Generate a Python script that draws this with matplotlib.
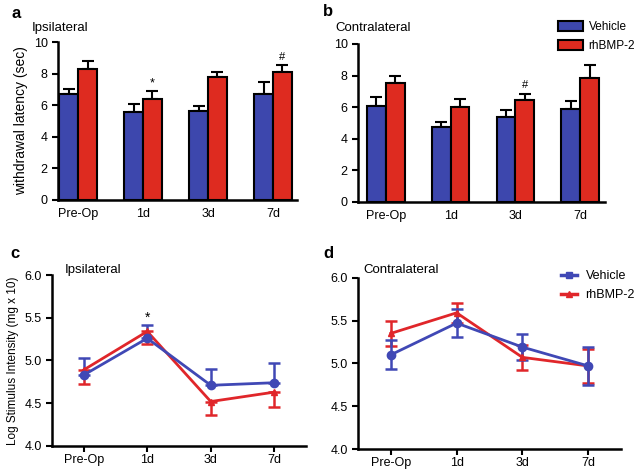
import numpy as np
import matplotlib
matplotlib.use('Agg')
import matplotlib.pyplot as plt
from matplotlib.patches import Patch
from matplotlib.lines import Line2D

plt.rcParams['font.family'] = ['Liberation Sans', 'DejaVu Sans']

# data
days = ['Pre-Op', '1d', '3d', '7d']

# a / b: withdrawal latency (sec), mean and SEM
ipsi_veh = [6.69, 5.56, 5.66, 6.74]
ipsi_veh_err = [0.33, 0.51, 0.32, 0.75]
ipsi_bmp = [8.32, 6.40, 7.77, 8.09]
ipsi_bmp_err = [0.50, 0.51, 0.30, 0.43]

contra_veh = [6.10, 4.72, 5.41, 5.90]
contra_veh_err = [0.55, 0.33, 0.42, 0.50]
contra_bmp = [7.52, 5.98, 6.44, 7.83]
contra_bmp_err = [0.48, 0.52, 0.42, 0.82]

# c / d: log stimulus intensity
vf_ipsi_veh = [4.83, 5.26, 4.71, 4.74]
vf_ipsi_veh_err = [0.20, 0.15, 0.19, 0.23]
vf_ipsi_bmp = [4.89, 5.34, 4.52, 4.63]
vf_ipsi_bmp_err = [0.16, 0.15, 0.16, 0.17]

vf_contra_veh = [5.10, 5.47, 5.19, 4.97]
vf_contra_veh_err = [0.17, 0.16, 0.15, 0.22]
vf_contra_bmp = [5.35, 5.59, 5.07, 4.97]
vf_contra_bmp_err = [0.15, 0.12, 0.15, 0.20]

BLUE = '#3d47ad'
RED = '#de2b20'
LBLUE = '#4048b5'
LRED = '#e0262a'

fig = plt.figure(figsize=(6.38, 4.73), dpi=100)
x = np.arange(len(days))
w = 0.29


def style(ax):
    for s in ['top', 'right']:
        ax.spines[s].set_visible(False)
    for s in ['left', 'bottom']:
        ax.spines[s].set_linewidth(1.8)
    ax.tick_params(axis='both', width=1.5, length=4, labelsize=9, direction='out')


def bars(ax, veh, veh_err, bmp, bmp_err, xlim):
    ax.bar(x - w / 2, veh, w, color=BLUE, edgecolor='black', linewidth=1.5, zorder=2)
    ax.bar(x + w / 2, bmp, w, color=RED, edgecolor='black', linewidth=1.5, zorder=2)
    ax.errorbar(x - w / 2, veh, yerr=[np.zeros(4), veh_err], fmt='none',
                ecolor='black', elinewidth=1.5, capsize=4, capthick=1.5, zorder=1)
    ax.errorbar(x + w / 2, bmp, yerr=[np.zeros(4), bmp_err], fmt='none',
                ecolor='black', elinewidth=1.5, capsize=4, capthick=1.5, zorder=1)
    ax.set_ylim(0, 10)
    ax.set_yticks([0, 2, 4, 6, 8, 10])
    ax.set_xlim(*xlim)
    ax.set_xticks(x)
    ax.set_xticklabels(days)
    style(ax)
    ax.tick_params(axis='x', length=0, pad=6)


def lines(ax, veh, veh_err, bmp, bmp_err, both_sides):
    veh_err = np.array(veh_err)
    bmp_err = np.array(bmp_err)
    if both_sides:
        ve = [veh_err, veh_err]
        be = [bmp_err, bmp_err]
    else:
        ve = [np.zeros(4), veh_err]
        be = [bmp_err, np.zeros(4)]
    ax.errorbar(x, bmp, yerr=be, color=LRED, marker='^', markersize=5, lw=2,
                elinewidth=1.8, capsize=4, capthick=1.8)
    ax.errorbar(x, veh, yerr=ve, color=LBLUE, marker='o', markersize=6, lw=2,
                elinewidth=1.8, capsize=4, capthick=1.8)
    ax.set_ylim(4.0, 6.0)
    ax.set_yticks([4.0, 4.5, 5.0, 5.5, 6.0])
    ax.set_yticklabels(['4.0', '4.5', '5.0', '5.5', '6.0'])
    ax.set_xlim(-0.5, 3.5)
    ax.set_xticks(x)
    ax.set_xticklabels(days)
    style(ax)
    ax.tick_params(axis='x', pad=2)


# panel a
ax_a = fig.add_axes([0.0909, 0.5772, 0.3746, 0.334])
bars(ax_a, ipsi_veh, ipsi_veh_err, ipsi_bmp, ipsi_bmp_err, (-0.31, 3.37))
ax_a.set_ylabel('withdrawal latency (sec)', fontsize=10)
ax_a.text(x[1] + w / 2, ipsi_bmp[1] + ipsi_bmp_err[1] + 0.3, '*', ha='center', fontsize=9)
ax_a.text(x[3] + w / 2, ipsi_bmp[3] + ipsi_bmp_err[3] + 0.35, '#', ha='center', fontsize=8)

# panel b
ax_b = fig.add_axes([0.5611, 0.573, 0.3869, 0.334])
bars(ax_b, contra_veh, contra_veh_err, contra_bmp, contra_bmp_err, (-0.43, 3.38))
ax_b.text(x[2] + w / 2, contra_bmp[2] + contra_bmp_err[2] + 0.35, '#', ha='center', fontsize=8)
ax_b.legend(handles=[Patch(facecolor=BLUE, edgecolor='black', linewidth=1.5, label='Vehicle'),
                     Patch(facecolor=RED, edgecolor='black', linewidth=1.5, label='rhBMP-2')],
            loc='upper left', bbox_to_anchor=(0.81, 1.145), frameon=False, fontsize=8.5,
            borderpad=0, borderaxespad=0,
            handlelength=2.1, handleheight=0.95, handletextpad=0.5, labelspacing=0.55)

# panel c
ax_c = fig.add_axes([0.0815, 0.0571, 0.3981, 0.3615])
lines(ax_c, vf_ipsi_veh, vf_ipsi_veh_err, vf_ipsi_bmp, vf_ipsi_bmp_err, False)
ax_c.set_ylabel('Log Stimulus Intensity (mg x 10)', fontsize=8.5)
ax_c.text(x[1], vf_ipsi_veh[1] + vf_ipsi_veh_err[1] + 0.04, '*', ha='center', fontsize=10)

# panel d
ax_d = fig.add_axes([0.5611, 0.0507, 0.4123, 0.3622])
lines(ax_d, vf_contra_veh, vf_contra_veh_err, vf_contra_bmp, vf_contra_bmp_err, True)
ax_d.legend(handles=[Line2D([], [], color=LBLUE, lw=2.5, marker='s', markersize=5, label='Vehicle'),
                     Line2D([], [], color=LRED, lw=2.5, marker='^', markersize=5, label='rhBMP-2')],
            loc='upper left', bbox_to_anchor=(0.77, 1.045), frameon=False,
            borderpad=0, borderaxespad=0,
            fontsize=9, handlelength=1.3, handletextpad=0.7, labelspacing=0.6)

# subtitles and panel letters
fig.text(32 / 638, 1 - 28 / 473, 'Ipsilateral', fontsize=9.5, va='center')
fig.text(335 / 638, 1 - 28 / 473, 'Contralateral', fontsize=9.5, va='center')
fig.text(65 / 638, 1 - 270 / 473, 'Ipsilateral', fontsize=9.5, va='center')
fig.text(363 / 638, 1 - 270 / 473, 'Contralateral', fontsize=9.5, va='center')

fig.text(11 / 638, 1 - 13 / 473, 'a', fontsize=12, fontweight='bold', va='center')
fig.text(323 / 638, 1 - 12 / 473, 'b', fontsize=12, fontweight='bold', va='center')
fig.text(10 / 638, 1 - 253 / 473, 'c', fontsize=12, fontweight='bold', va='center')
fig.text(323 / 638, 1 - 253 / 473, 'd', fontsize=12, fontweight='bold', va='center')

fig.savefig('out.png', dpi=100)
